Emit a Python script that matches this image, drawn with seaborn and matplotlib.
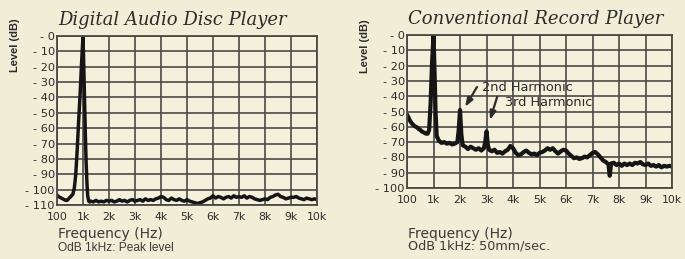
import numpy as np
import pandas as pd
import seaborn as sns
import matplotlib.pyplot as plt

# spectrum of the digital player (Hz, dB)
disc_freq = [100, 150, 200, 250, 300, 350, 400, 450, 500, 550, 600, 650, 700, 750, 800, 850, 900, 950,
             1000, 1030, 1060, 1090, 1120, 1150, 1180, 1220, 1260,
             1300, 1400, 1500, 1600, 1700, 1800, 1900, 2000,
             2100, 2200, 2300, 2400, 2500, 2600, 2700, 2800, 2900, 3000,
             3100, 3200, 3300, 3400, 3500, 3600, 3700, 3800, 3900, 4000,
             4100, 4200, 4300, 4400, 4500, 4600, 4700, 4800, 4900, 5000,
             5100, 5200, 5300, 5400, 5500, 5600, 5700, 5800, 5900, 6000,
             6100, 6200, 6300, 6400, 6500, 6600, 6700, 6800, 6900, 7000,
             7100, 7200, 7300, 7400, 7500, 7600, 7700, 7800, 7900, 8000,
             8100, 8200, 8300, 8400, 8500, 8600, 8700, 8800, 8900, 9000,
             9100, 9200, 9300, 9400, 9500, 9600, 9700, 9800, 9900, 10000]
disc_db = [-103.5, -104.5, -105, -105.5, -106, -106.5, -107, -107, -106, -105, -104, -103, -99, -90, -74, -55, -38, -18,
           0, -20, -42, -64, -82, -95, -104, -107.5, -108,
           -107.5, -108, -107, -108, -107.5, -108, -107, -107.5,
           -107, -108, -107.5, -106.5, -107.5, -107, -108, -107, -106.5, -107.5,
           -107, -106.5, -107.5, -106, -107, -106.5, -107, -106, -105.5, -104.5,
           -105, -106.5, -107, -105.5, -106.5, -107, -106, -107, -107.5, -106.5,
           -107.5, -108, -108.5, -109, -108.5, -108, -107, -106, -105.5, -104,
           -105.5, -104.5, -105, -106, -105, -104.5, -105.5, -104, -105, -104.5,
           -105, -104, -105.5, -104.5, -105, -106, -106.5, -107, -106.5, -106,
           -106.5, -105, -104.5, -103.5, -103, -104.5, -105, -106, -105.5, -105,
           -105, -104.5, -105.5, -106, -106.5, -105.5, -106, -106.5, -106, -106.5]

# spectrum of the record player (Hz, dB)
record_freq = [100, 150, 200, 250, 300, 350, 400, 450, 500, 550, 600, 650, 700, 750, 800, 850, 900, 950,
               1000, 1040, 1080, 1120, 1200, 1300, 1400, 1500, 1600, 1700, 1800, 1900, 1950,
               2000, 2050, 2100, 2200, 2300, 2400, 2500, 2600, 2700, 2800, 2900, 2950,
               3000, 3050, 3100, 3200, 3300, 3400, 3500, 3600, 3700, 3800, 3900, 4000,
               4100, 4200, 4300, 4400, 4500, 4600, 4700, 4800, 4900, 5000,
               5100, 5200, 5300, 5400, 5500, 5600, 5700, 5800, 5900, 6000,
               6100, 6200, 6300, 6400, 6500, 6600, 6700, 6800, 6900, 7000,
               7100, 7200, 7300, 7400, 7500, 7600, 7650, 7700, 7800, 7900, 8000,
               8100, 8200, 8300, 8400, 8500, 8600, 8700, 8800, 8900, 9000,
               9100, 9200, 9300, 9400, 9500, 9600, 9700, 9800, 9900, 10000]
record_db = [-52, -54, -56, -57.5, -58.5, -59.5, -60, -60.5, -61.5, -62, -63, -63.5, -64, -64.5, -64.5, -62, -45, -18,
             0, -25, -52, -66, -69, -70.5, -70, -71, -70.5, -71.5, -71, -70, -62,
             -49, -65, -72, -73, -74.5, -73, -74, -75, -74, -75.5, -74, -70,
             -63, -72, -75, -76, -75, -77, -76.5, -77.5, -76, -75, -72.5, -74,
             -77, -78.5, -78, -76.5, -75.5, -77, -78, -77.5, -78.5, -77,
             -76.5, -75.5, -74, -75, -74, -76, -77.5, -76, -75, -75.5,
             -77.5, -79, -80.5, -80, -81, -80.5, -79.5, -80, -78.5, -77,
             -76.5, -78, -80, -82, -83, -84.5, -92, -84, -83.5, -85, -84,
             -85.5, -84, -85, -84, -85, -83.5, -84, -83, -84.5, -85,
             -84, -85.5, -85, -86, -85, -86.5, -85.5, -86, -85.5, -86]

freq_ticks = [100, 1000, 2000, 3000, 4000, 5000, 6000, 7000, 8000, 9000, 10000]
freq_labels = ['100', '1k', '2k', '3k', '4k', '5k', '6k', '7k', '8k', '9k', '10k']

disc = pd.DataFrame({'freq': disc_freq, 'level': disc_db})
record = pd.DataFrame({'freq': record_freq, 'level': record_db})

BG = '#f2edd6'
INK = '#2b2b2b'
GRID = '#4a4a45'


# chart paper: 100 Hz .. 1 kHz squeezed into the first division
def fwd(f):
    f = np.asarray(f, dtype=float)
    return np.where(f < 1000, (f - 100) / 900, f / 1000)


def inv(p):
    p = np.asarray(p, dtype=float)
    return np.where(p < 1, 100 + 900 * p, 1000 * p)


def setup_axes(ax, ymin):
    ax.set_facecolor('#f4f0dc')
    ax.set_xscale('function', functions=(fwd, inv))
    ax.set_xlim(100, 10000)
    ax.set_ylim(ymin, 0)
    ax.set_xticks(freq_ticks)
    ax.set_xticklabels(freq_labels)
    yt = list(range(0, ymin - 1, -10))
    ax.set_yticks(yt)
    ax.set_yticklabels(['- %d' % abs(v) for v in yt])
    ax.grid(True, color=GRID, lw=1.2)
    ax.set_axisbelow(True)
    for s in ax.spines.values():
        s.set_color(GRID)
        s.set_linewidth(1.3)
    ax.tick_params(axis='both', length=0, colors=INK)
    ax.tick_params(axis='y', pad=1.5, labelsize=8.2)
    ax.tick_params(axis='x', pad=5, labelsize=7.8)
    ax.set_xlabel('')
    ax.set_ylabel('')


sns.set_style('ticks')
plt.rcParams['font.family'] = ['DejaVu Sans']

fig = plt.figure(figsize=(6.85, 2.59), dpi=100)
fig.patch.set_facecolor(BG)

ax1 = fig.add_axes([0.0832, 0.2085, 0.3796, 0.6525])
ax2 = fig.add_axes([0.5942, 0.2741, 0.3869, 0.5907])

sns.lineplot(data=disc, x='freq', y='level', ax=ax1, color='#151515', lw=2.5, sort=False, estimator=None)
sns.lineplot(data=record, x='freq', y='level', ax=ax2, color='#151515', lw=3.0, sort=False, estimator=None)

setup_axes(ax1, -110)
setup_axes(ax2, -100)

# harmonic callouts
arrow = dict(arrowstyle='-|>,head_length=0.5,head_width=0.18', color=INK, lw=1.6, shrinkA=0, shrinkB=0)
ax2.annotate('', xy=(2190, -47), xytext=(2640, -34), arrowprops=arrow)
ax2.annotate('', xy=(3130, -55.5), xytext=(3400, -40.5), arrowprops=arrow)
ax2.text(2830, -34.6, '2nd Harmonic', fontsize=9.3, color=INK, va='center', ha='left')
ax2.text(3700, -44.4, '3rd Harmonic', fontsize=9.3, color=INK, va='center', ha='left')

# titles and captions
W, H = 685, 259
title_kw = dict(family='DejaVu Serif', style='italic', fontsize=13, color=INK, va='center', ha='left')
fig.text(58 / W, 1 - 20 / H, 'Digital Audio Disc Player', **title_kw)
fig.text(408 / W, 1 - 19 / H, 'Conventional Record Player', **title_kw)

ylab_kw = dict(family=['Liberation Sans Narrow', 'Liberation Sans'], fontweight='bold', fontsize=8,
               rotation=90, color=INK, ha='center', va='center')
fig.text(15 / W, 1 - 45 / H, 'Level (dB)', **ylab_kw)
fig.text(365 / W, 1 - 46 / H, 'Level (dB)', **ylab_kw)

cap_kw = dict(fontsize=9.2, color='#3a3a3a', ha='left', va='center')
fig.text(58 / W, 1 - 234 / H, 'Frequency (Hz)', fontsize=10, color='#3a3a3a', ha='left', va='center')
fig.text(58 / W, 1 - 248 / H, 'OdB 1kHz: Peak level', family='Liberation Sans', fontsize=8.6,
         color='#3a3a3a', ha='left', va='center')
fig.text(408 / W, 1 - 234 / H, 'Frequency (Hz)', fontsize=10, color='#3a3a3a', ha='left', va='center')
fig.text(408 / W, 1 - 246 / H, 'OdB 1kHz: 50mm/sec.', **cap_kw)

fig.savefig('out.png', dpi=100, facecolor=BG)
